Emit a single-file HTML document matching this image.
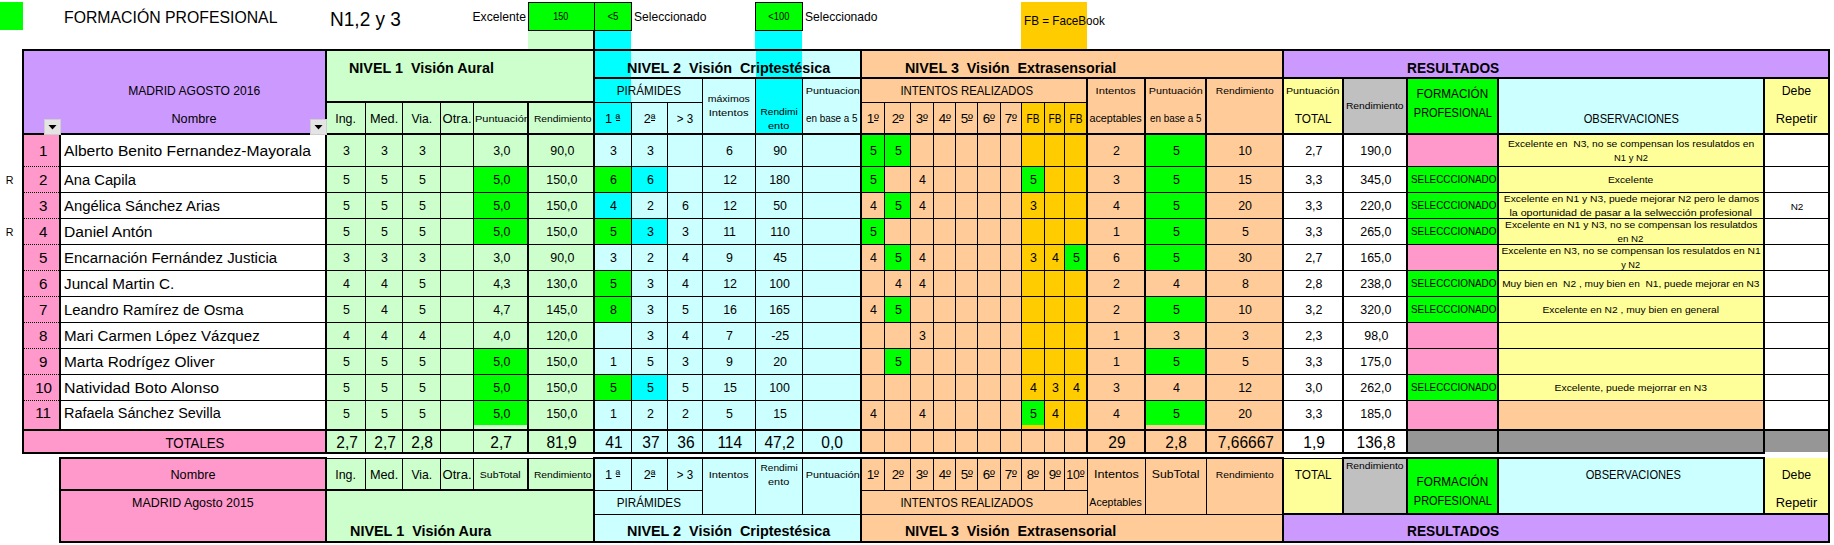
<!DOCTYPE html>
<html><head><meta charset="utf-8"><title>Formación Profesional</title>
<style>
html,body{margin:0;padding:0;background:#fff;}
body{width:1834px;height:545px;position:relative;overflow:hidden;font-family:"Liberation Sans",sans-serif;color:#000;}
#sheet{position:absolute;left:0;top:0;width:1834px;height:545px;overflow:hidden;background:#fff;}
.r{position:absolute;}
.t{position:absolute;line-height:1;white-space:pre;}
.o{position:relative;display:inline-block}.o i{position:absolute;left:0.02em;right:0.02em;bottom:0.33em;height:1px;background:#000}
.dot{background:repeating-linear-gradient(90deg,#000 0 1px,transparent 1px 2px);}
</style></head><body>
<div id="sheet">
<div class="r" style="left:0px;top:2px;width:23px;height:28px;background:#00FF00"></div>
<div class="t" style="left:64px;top:10px;width:336px;font-size:16.90px;text-align:left;"><span style="display:inline-block;transform:scaleX(0.936);transform-origin:left center">FORMACIÓN PROFESIONAL</span></div>
<div class="t" style="left:330px;top:9px;width:170px;font-size:20.60px;text-align:left;"><span style="display:inline-block;transform:scaleX(0.925);transform-origin:left center">N1,2 y 3</span></div>
<div class="t" style="left:440px;top:10px;width:85.5px;font-size:13.20px;text-align:right;"><span style="display:inline-block;transform:scaleX(0.923);transform-origin:right center">Excelente</span></div>
<div class="r" style="left:528px;top:2px;width:104px;height:29px;background:#000000"></div>
<div class="r" style="left:529px;top:3px;width:65px;height:27px;background:#00FF00"></div>
<div class="r" style="left:595px;top:3px;width:36px;height:27px;background:#00FF00"></div>
<div class="r" style="left:528px;top:31px;width:66px;height:18px;background:#CCFFCC"></div>
<div class="r" style="left:594px;top:31px;width:37px;height:18px;background:#00FFFF"></div>
<div class="r" style="left:593px;top:31px;width:2px;height:18px;background:#000000"></div>
<div class="t" style="left:161.0px;top:11px;width:800.0px;font-size:10.50px;text-align:center;"><span style="display:inline-block;transform:scaleX(0.856);transform-origin:center center">150</span></div>
<div class="t" style="left:213.0px;top:11px;width:800.0px;font-size:10.50px;text-align:center;"><span style="display:inline-block;transform:scaleX(0.919);transform-origin:center center">&lt;5</span></div>
<div class="t" style="left:633.6px;top:10px;width:126.39999999999998px;font-size:13.20px;text-align:left;"><span style="display:inline-block;transform:scaleX(0.915);transform-origin:left center">Seleccionado</span></div>
<div class="r" style="left:755px;top:2px;width:48px;height:29px;background:#000000"></div>
<div class="r" style="left:756px;top:3px;width:46px;height:27px;background:#00FF00"></div>
<div class="r" style="left:755px;top:31px;width:47px;height:18px;background:#00FFFF"></div>
<div class="t" style="left:378.5px;top:11px;width:800.0px;font-size:10.50px;text-align:center;"><span style="display:inline-block;transform:scaleX(0.888);transform-origin:center center">&lt;100</span></div>
<div class="t" style="left:804.6px;top:10px;width:125.39999999999998px;font-size:13.20px;text-align:left;"><span style="display:inline-block;transform:scaleX(0.915);transform-origin:left center">Seleccionado</span></div>
<div class="r" style="left:1021px;top:2px;width:66px;height:47px;background:#FFCC00"></div>
<div class="t" style="left:1024px;top:14px;width:176px;font-size:13.20px;text-align:left;"><span style="display:inline-block;transform:scaleX(0.887);transform-origin:left center">FB = FaceBook</span></div>
<div class="r" style="left:24px;top:51px;width:301px;height:82px;background:#CC99FF"></div>
<div class="r" style="left:327px;top:51px;width:266px;height:82px;background:#CCFFCC"></div>
<div class="r" style="left:595px;top:51px;width:265px;height:82px;background:#CCFFFF"></div>
<div class="r" style="left:595px;top:51px;width:36px;height:82px;background:#00FFFF"></div>
<div class="r" style="left:756px;top:51px;width:46px;height:82px;background:#00FFFF"></div>
<div class="r" style="left:862px;top:51px;width:420px;height:82px;background:#FFCC99"></div>
<div class="r" style="left:1022px;top:103px;width:64px;height:30px;background:#FFCC00"></div>
<div class="r" style="left:1284px;top:51px;width:544px;height:26px;background:#CC99FF"></div>
<div class="r" style="left:1284px;top:79px;width:58px;height:54px;background:#FFFF99"></div>
<div class="r" style="left:1344px;top:79px;width:62px;height:54px;background:#C0C0C0"></div>
<div class="r" style="left:1408px;top:79px;width:89px;height:54px;background:#00FF00"></div>
<div class="r" style="left:1499px;top:79px;width:264px;height:54px;background:#CCFFFF"></div>
<div class="r" style="left:1765px;top:79px;width:63px;height:54px;background:#FFFF99"></div>
<div class="r" style="left:24px;top:135px;width:35px;height:294px;background:#FF99CC"></div>
<div class="r" style="left:61px;top:135px;width:264px;height:294px;background:#FFFFFF"></div>
<div class="r" style="left:327px;top:135px;width:266px;height:317px;background:#CCFFCC"></div>
<div class="r" style="left:595px;top:135px;width:265px;height:317px;background:#CCFFFF"></div>
<div class="r" style="left:862px;top:135px;width:420px;height:317px;background:#FFCC99"></div>
<div class="r" style="left:1022px;top:135px;width:64px;height:294px;background:#FFCC00"></div>
<div class="r" style="left:1284px;top:135px;width:122px;height:317px;background:#FFFFFF"></div>
<div class="r" style="left:1408px;top:135px;width:89px;height:294px;background:#FF99CC"></div>
<div class="r" style="left:1499px;top:135px;width:264px;height:294px;background:#FFFF99"></div>
<div class="r" style="left:1765px;top:135px;width:63px;height:294px;background:#FFFFFF"></div>
<div class="r" style="left:24px;top:431px;width:301px;height:21px;background:#FF99CC"></div>
<div class="r" style="left:1408px;top:431px;width:420px;height:21px;background:#969696"></div>
<div class="r" style="left:862px;top:135px;width:22px;height:31px;background:#00FF00"></div>
<div class="r" style="left:885px;top:135px;width:25px;height:31px;background:#00FF00"></div>
<div class="r" style="left:1146px;top:135px;width:59px;height:31px;background:#00FF00"></div>
<div class="t" style="left:-356.5px;top:143px;width:800.0px;font-size:15.50px;text-align:center;"><span style="display:inline-block;transform:scaleX(0.980);transform-origin:center center">1</span></div>
<div class="t" style="left:64.3px;top:143px;width:265.7px;font-size:15.50px;text-align:left;"><span style="display:inline-block;transform:scaleX(1.009);transform-origin:left center">Alberto Benito Fernandez-Mayorala</span></div>
<div class="t" style="left:-53.0px;top:145px;width:800.0px;font-size:12.66px;text-align:center;"><span style="display:inline-block;transform:scaleX(0.980);transform-origin:center center">3</span></div>
<div class="t" style="left:-15.0px;top:145px;width:800.0px;font-size:12.66px;text-align:center;"><span style="display:inline-block;transform:scaleX(0.980);transform-origin:center center">3</span></div>
<div class="t" style="left:22.5px;top:145px;width:800.0px;font-size:12.66px;text-align:center;"><span style="display:inline-block;transform:scaleX(0.980);transform-origin:center center">3</span></div>
<div class="t" style="left:101.5px;top:145px;width:800.0px;font-size:12.66px;text-align:center;"><span style="display:inline-block;transform:scaleX(0.980);transform-origin:center center">3,0</span></div>
<div class="t" style="left:162.0px;top:145px;width:800.0px;font-size:12.66px;text-align:center;"><span style="display:inline-block;transform:scaleX(0.980);transform-origin:center center">90,0</span></div>
<div class="t" style="left:214.0px;top:145px;width:800.0px;font-size:12.66px;text-align:center;"><span style="display:inline-block;transform:scaleX(0.980);transform-origin:center center">3</span></div>
<div class="t" style="left:250.5px;top:145px;width:800.0px;font-size:12.66px;text-align:center;"><span style="display:inline-block;transform:scaleX(0.980);transform-origin:center center">3</span></div>
<div class="t" style="left:330.0px;top:145px;width:800.0px;font-size:12.66px;text-align:center;"><span style="display:inline-block;transform:scaleX(0.980);transform-origin:center center">6</span></div>
<div class="t" style="left:380.0px;top:145px;width:800.0px;font-size:12.66px;text-align:center;"><span style="display:inline-block;transform:scaleX(0.980);transform-origin:center center">90</span></div>
<div class="t" style="left:474.0px;top:145px;width:800.0px;font-size:12.66px;text-align:center;"><span style="display:inline-block;transform:scaleX(0.980);transform-origin:center center">5</span></div>
<div class="t" style="left:498.5px;top:145px;width:800.0px;font-size:12.66px;text-align:center;"><span style="display:inline-block;transform:scaleX(0.980);transform-origin:center center">5</span></div>
<div class="t" style="left:717.0px;top:145px;width:800.0px;font-size:12.66px;text-align:center;"><span style="display:inline-block;transform:scaleX(0.980);transform-origin:center center">2</span></div>
<div class="t" style="left:776.5px;top:145px;width:800.0px;font-size:12.66px;text-align:center;"><span style="display:inline-block;transform:scaleX(0.980);transform-origin:center center">5</span></div>
<div class="t" style="left:845.5px;top:145px;width:800.0px;font-size:12.66px;text-align:center;"><span style="display:inline-block;transform:scaleX(0.980);transform-origin:center center">10</span></div>
<div class="t" style="left:914.0px;top:145px;width:800.0px;font-size:12.66px;text-align:center;"><span style="display:inline-block;transform:scaleX(0.980);transform-origin:center center">2,7</span></div>
<div class="t" style="left:976.0px;top:145px;width:800.0px;font-size:12.66px;text-align:center;"><span style="display:inline-block;transform:scaleX(0.980);transform-origin:center center">190,0</span></div>
<div class="t" style="left:1231.0px;top:139px;width:800.0px;font-size:9.40px;text-align:center;"><span style="display:inline-block;transform:scaleX(1.099);transform-origin:center center">Excelente en  N3, no se compensan los resulatdos en</span></div>
<div class="t" style="left:1231.0px;top:153px;width:800.0px;font-size:9.40px;text-align:center;">N1 y N2</div>
<div class="r" style="left:474px;top:167px;width:53px;height:25px;background:#00FF00"></div>
<div class="r" style="left:595px;top:167px;width:36px;height:25px;background:#00FF00"></div>
<div class="r" style="left:632px;top:167px;width:35px;height:25px;background:#00FFFF"></div>
<div class="r" style="left:862px;top:167px;width:22px;height:25px;background:#00FF00"></div>
<div class="r" style="left:1022px;top:167px;width:22px;height:25px;background:#00FF00"></div>
<div class="r" style="left:1146px;top:167px;width:59px;height:25px;background:#00FF00"></div>
<div class="r" style="left:1408px;top:167px;width:89px;height:25px;background:#00FF00"></div>
<div class="t" style="left:-356.5px;top:172px;width:800.0px;font-size:15.50px;text-align:center;"><span style="display:inline-block;transform:scaleX(0.980);transform-origin:center center">2</span></div>
<div class="t" style="left:64.3px;top:172px;width:265.7px;font-size:15.50px;text-align:left;"><span style="display:inline-block;transform:scaleX(0.950);transform-origin:left center">Ana Capila</span></div>
<div class="t" style="left:-53.0px;top:174px;width:800.0px;font-size:12.66px;text-align:center;"><span style="display:inline-block;transform:scaleX(0.980);transform-origin:center center">5</span></div>
<div class="t" style="left:-15.0px;top:174px;width:800.0px;font-size:12.66px;text-align:center;"><span style="display:inline-block;transform:scaleX(0.980);transform-origin:center center">5</span></div>
<div class="t" style="left:22.5px;top:174px;width:800.0px;font-size:12.66px;text-align:center;"><span style="display:inline-block;transform:scaleX(0.980);transform-origin:center center">5</span></div>
<div class="t" style="left:101.5px;top:174px;width:800.0px;font-size:12.66px;text-align:center;"><span style="display:inline-block;transform:scaleX(0.980);transform-origin:center center">5,0</span></div>
<div class="t" style="left:162.0px;top:174px;width:800.0px;font-size:12.66px;text-align:center;"><span style="display:inline-block;transform:scaleX(0.980);transform-origin:center center">150,0</span></div>
<div class="t" style="left:214.0px;top:174px;width:800.0px;font-size:12.66px;text-align:center;"><span style="display:inline-block;transform:scaleX(0.980);transform-origin:center center">6</span></div>
<div class="t" style="left:250.5px;top:174px;width:800.0px;font-size:12.66px;text-align:center;"><span style="display:inline-block;transform:scaleX(0.980);transform-origin:center center">6</span></div>
<div class="t" style="left:330.0px;top:174px;width:800.0px;font-size:12.66px;text-align:center;"><span style="display:inline-block;transform:scaleX(0.980);transform-origin:center center">12</span></div>
<div class="t" style="left:380.0px;top:174px;width:800.0px;font-size:12.66px;text-align:center;"><span style="display:inline-block;transform:scaleX(0.980);transform-origin:center center">180</span></div>
<div class="t" style="left:474.0px;top:174px;width:800.0px;font-size:12.66px;text-align:center;"><span style="display:inline-block;transform:scaleX(0.980);transform-origin:center center">5</span></div>
<div class="t" style="left:523.0px;top:174px;width:800.0px;font-size:12.66px;text-align:center;"><span style="display:inline-block;transform:scaleX(0.980);transform-origin:center center">4</span></div>
<div class="t" style="left:634.0px;top:174px;width:800.0px;font-size:12.66px;text-align:center;"><span style="display:inline-block;transform:scaleX(0.980);transform-origin:center center">5</span></div>
<div class="t" style="left:717.0px;top:174px;width:800.0px;font-size:12.66px;text-align:center;"><span style="display:inline-block;transform:scaleX(0.980);transform-origin:center center">3</span></div>
<div class="t" style="left:776.5px;top:174px;width:800.0px;font-size:12.66px;text-align:center;"><span style="display:inline-block;transform:scaleX(0.980);transform-origin:center center">5</span></div>
<div class="t" style="left:845.5px;top:174px;width:800.0px;font-size:12.66px;text-align:center;"><span style="display:inline-block;transform:scaleX(0.980);transform-origin:center center">15</span></div>
<div class="t" style="left:914.0px;top:174px;width:800.0px;font-size:12.66px;text-align:center;"><span style="display:inline-block;transform:scaleX(0.980);transform-origin:center center">3,3</span></div>
<div class="t" style="left:976.0px;top:174px;width:800.0px;font-size:12.66px;text-align:center;"><span style="display:inline-block;transform:scaleX(0.980);transform-origin:center center">345,0</span></div>
<div class="t" style="left:1410.6px;top:175px;width:86.40000000000009px;font-size:10.40px;overflow:hidden;text-align:left;"><span style="display:inline-block;transform:scaleX(0.948);transform-origin:left center">SELECCCIONADO</span></div>
<div class="t" style="left:1231.0px;top:175px;width:800.0px;font-size:9.40px;text-align:center;"><span style="display:inline-block;transform:scaleX(1.102);transform-origin:center center">Excelente</span></div>
<div class="r" style="left:474px;top:193px;width:53px;height:25px;background:#00FF00"></div>
<div class="r" style="left:595px;top:193px;width:36px;height:25px;background:#00FFFF"></div>
<div class="r" style="left:885px;top:193px;width:25px;height:25px;background:#00FF00"></div>
<div class="r" style="left:1146px;top:193px;width:59px;height:25px;background:#00FF00"></div>
<div class="r" style="left:1408px;top:193px;width:89px;height:25px;background:#00FF00"></div>
<div class="t" style="left:-356.5px;top:198px;width:800.0px;font-size:15.50px;text-align:center;"><span style="display:inline-block;transform:scaleX(0.980);transform-origin:center center">3</span></div>
<div class="t" style="left:64.3px;top:198px;width:265.7px;font-size:15.50px;text-align:left;"><span style="display:inline-block;transform:scaleX(0.957);transform-origin:left center">Angélica Sánchez Arias</span></div>
<div class="t" style="left:-53.0px;top:200px;width:800.0px;font-size:12.66px;text-align:center;"><span style="display:inline-block;transform:scaleX(0.980);transform-origin:center center">5</span></div>
<div class="t" style="left:-15.0px;top:200px;width:800.0px;font-size:12.66px;text-align:center;"><span style="display:inline-block;transform:scaleX(0.980);transform-origin:center center">5</span></div>
<div class="t" style="left:22.5px;top:200px;width:800.0px;font-size:12.66px;text-align:center;"><span style="display:inline-block;transform:scaleX(0.980);transform-origin:center center">5</span></div>
<div class="t" style="left:101.5px;top:200px;width:800.0px;font-size:12.66px;text-align:center;"><span style="display:inline-block;transform:scaleX(0.980);transform-origin:center center">5,0</span></div>
<div class="t" style="left:162.0px;top:200px;width:800.0px;font-size:12.66px;text-align:center;"><span style="display:inline-block;transform:scaleX(0.980);transform-origin:center center">150,0</span></div>
<div class="t" style="left:214.0px;top:200px;width:800.0px;font-size:12.66px;text-align:center;"><span style="display:inline-block;transform:scaleX(0.980);transform-origin:center center">4</span></div>
<div class="t" style="left:250.5px;top:200px;width:800.0px;font-size:12.66px;text-align:center;"><span style="display:inline-block;transform:scaleX(0.980);transform-origin:center center">2</span></div>
<div class="t" style="left:286.0px;top:200px;width:800.0px;font-size:12.66px;text-align:center;"><span style="display:inline-block;transform:scaleX(0.980);transform-origin:center center">6</span></div>
<div class="t" style="left:330.0px;top:200px;width:800.0px;font-size:12.66px;text-align:center;"><span style="display:inline-block;transform:scaleX(0.980);transform-origin:center center">12</span></div>
<div class="t" style="left:380.0px;top:200px;width:800.0px;font-size:12.66px;text-align:center;"><span style="display:inline-block;transform:scaleX(0.980);transform-origin:center center">50</span></div>
<div class="t" style="left:474.0px;top:200px;width:800.0px;font-size:12.66px;text-align:center;"><span style="display:inline-block;transform:scaleX(0.980);transform-origin:center center">4</span></div>
<div class="t" style="left:498.5px;top:200px;width:800.0px;font-size:12.66px;text-align:center;"><span style="display:inline-block;transform:scaleX(0.980);transform-origin:center center">5</span></div>
<div class="t" style="left:523.0px;top:200px;width:800.0px;font-size:12.66px;text-align:center;"><span style="display:inline-block;transform:scaleX(0.980);transform-origin:center center">4</span></div>
<div class="t" style="left:634.0px;top:200px;width:800.0px;font-size:12.66px;text-align:center;"><span style="display:inline-block;transform:scaleX(0.980);transform-origin:center center">3</span></div>
<div class="t" style="left:717.0px;top:200px;width:800.0px;font-size:12.66px;text-align:center;"><span style="display:inline-block;transform:scaleX(0.980);transform-origin:center center">4</span></div>
<div class="t" style="left:776.5px;top:200px;width:800.0px;font-size:12.66px;text-align:center;"><span style="display:inline-block;transform:scaleX(0.980);transform-origin:center center">5</span></div>
<div class="t" style="left:845.5px;top:200px;width:800.0px;font-size:12.66px;text-align:center;"><span style="display:inline-block;transform:scaleX(0.980);transform-origin:center center">20</span></div>
<div class="t" style="left:914.0px;top:200px;width:800.0px;font-size:12.66px;text-align:center;"><span style="display:inline-block;transform:scaleX(0.980);transform-origin:center center">3,3</span></div>
<div class="t" style="left:976.0px;top:200px;width:800.0px;font-size:12.66px;text-align:center;"><span style="display:inline-block;transform:scaleX(0.980);transform-origin:center center">220,0</span></div>
<div class="t" style="left:1410.6px;top:201px;width:86.40000000000009px;font-size:10.40px;overflow:hidden;text-align:left;"><span style="display:inline-block;transform:scaleX(0.948);transform-origin:left center">SELECCCIONADO</span></div>
<div class="t" style="left:1231.0px;top:194px;width:800.0px;font-size:9.40px;text-align:center;"><span style="display:inline-block;transform:scaleX(1.096);transform-origin:center center">Excelente en N1 y N3, puede mejorar N2 pero le damos</span></div>
<div class="t" style="left:1231.0px;top:208px;width:800.0px;font-size:9.40px;text-align:center;"><span style="display:inline-block;transform:scaleX(1.137);transform-origin:center center">la oportunidad de pasar a la selwección profesional</span></div>
<div class="r" style="left:474px;top:219px;width:53px;height:25px;background:#00FF00"></div>
<div class="r" style="left:595px;top:219px;width:36px;height:25px;background:#00FF00"></div>
<div class="r" style="left:632px;top:219px;width:35px;height:25px;background:#00FFFF"></div>
<div class="r" style="left:862px;top:219px;width:22px;height:25px;background:#00FF00"></div>
<div class="r" style="left:1146px;top:219px;width:59px;height:25px;background:#00FF00"></div>
<div class="r" style="left:1408px;top:219px;width:89px;height:25px;background:#00FF00"></div>
<div class="t" style="left:-356.5px;top:224px;width:800.0px;font-size:15.50px;text-align:center;"><span style="display:inline-block;transform:scaleX(0.980);transform-origin:center center">4</span></div>
<div class="t" style="left:64.3px;top:224px;width:265.7px;font-size:15.50px;text-align:left;"><span style="display:inline-block;transform:scaleX(1.007);transform-origin:left center">Daniel Antón</span></div>
<div class="t" style="left:-53.0px;top:226px;width:800.0px;font-size:12.66px;text-align:center;"><span style="display:inline-block;transform:scaleX(0.980);transform-origin:center center">5</span></div>
<div class="t" style="left:-15.0px;top:226px;width:800.0px;font-size:12.66px;text-align:center;"><span style="display:inline-block;transform:scaleX(0.980);transform-origin:center center">5</span></div>
<div class="t" style="left:22.5px;top:226px;width:800.0px;font-size:12.66px;text-align:center;"><span style="display:inline-block;transform:scaleX(0.980);transform-origin:center center">5</span></div>
<div class="t" style="left:101.5px;top:226px;width:800.0px;font-size:12.66px;text-align:center;"><span style="display:inline-block;transform:scaleX(0.980);transform-origin:center center">5,0</span></div>
<div class="t" style="left:162.0px;top:226px;width:800.0px;font-size:12.66px;text-align:center;"><span style="display:inline-block;transform:scaleX(0.980);transform-origin:center center">150,0</span></div>
<div class="t" style="left:214.0px;top:226px;width:800.0px;font-size:12.66px;text-align:center;"><span style="display:inline-block;transform:scaleX(0.980);transform-origin:center center">5</span></div>
<div class="t" style="left:250.5px;top:226px;width:800.0px;font-size:12.66px;text-align:center;"><span style="display:inline-block;transform:scaleX(0.980);transform-origin:center center">3</span></div>
<div class="t" style="left:286.0px;top:226px;width:800.0px;font-size:12.66px;text-align:center;"><span style="display:inline-block;transform:scaleX(0.980);transform-origin:center center">3</span></div>
<div class="t" style="left:330.0px;top:226px;width:800.0px;font-size:12.66px;text-align:center;"><span style="display:inline-block;transform:scaleX(0.980);transform-origin:center center">11</span></div>
<div class="t" style="left:380.0px;top:226px;width:800.0px;font-size:12.66px;text-align:center;"><span style="display:inline-block;transform:scaleX(0.980);transform-origin:center center">110</span></div>
<div class="t" style="left:474.0px;top:226px;width:800.0px;font-size:12.66px;text-align:center;"><span style="display:inline-block;transform:scaleX(0.980);transform-origin:center center">5</span></div>
<div class="t" style="left:717.0px;top:226px;width:800.0px;font-size:12.66px;text-align:center;"><span style="display:inline-block;transform:scaleX(0.980);transform-origin:center center">1</span></div>
<div class="t" style="left:776.5px;top:226px;width:800.0px;font-size:12.66px;text-align:center;"><span style="display:inline-block;transform:scaleX(0.980);transform-origin:center center">5</span></div>
<div class="t" style="left:845.5px;top:226px;width:800.0px;font-size:12.66px;text-align:center;"><span style="display:inline-block;transform:scaleX(0.980);transform-origin:center center">5</span></div>
<div class="t" style="left:914.0px;top:226px;width:800.0px;font-size:12.66px;text-align:center;"><span style="display:inline-block;transform:scaleX(0.980);transform-origin:center center">3,3</span></div>
<div class="t" style="left:976.0px;top:226px;width:800.0px;font-size:12.66px;text-align:center;"><span style="display:inline-block;transform:scaleX(0.980);transform-origin:center center">265,0</span></div>
<div class="t" style="left:1410.6px;top:227px;width:86.40000000000009px;font-size:10.40px;overflow:hidden;text-align:left;"><span style="display:inline-block;transform:scaleX(0.948);transform-origin:left center">SELECCCIONADO</span></div>
<div class="t" style="left:1231.0px;top:220px;width:800.0px;font-size:9.40px;text-align:center;"><span style="display:inline-block;transform:scaleX(1.095);transform-origin:center center">Excelente en N1 y N3, no se compensan los resulatdos</span></div>
<div class="t" style="left:1231.0px;top:234px;width:800.0px;font-size:9.40px;text-align:center;"><span style="display:inline-block;transform:scaleX(1.037);transform-origin:center center">en N2</span></div>
<div class="r" style="left:885px;top:245px;width:25px;height:25px;background:#00FF00"></div>
<div class="r" style="left:1065px;top:245px;width:21px;height:25px;background:#00FF00"></div>
<div class="r" style="left:1146px;top:245px;width:59px;height:25px;background:#00FF00"></div>
<div class="t" style="left:-356.5px;top:250px;width:800.0px;font-size:15.50px;text-align:center;"><span style="display:inline-block;transform:scaleX(0.980);transform-origin:center center">5</span></div>
<div class="t" style="left:64.3px;top:250px;width:265.7px;font-size:15.50px;text-align:left;"><span style="display:inline-block;transform:scaleX(0.966);transform-origin:left center">Encarnación Fernández Justicia</span></div>
<div class="t" style="left:-53.0px;top:252px;width:800.0px;font-size:12.66px;text-align:center;"><span style="display:inline-block;transform:scaleX(0.980);transform-origin:center center">3</span></div>
<div class="t" style="left:-15.0px;top:252px;width:800.0px;font-size:12.66px;text-align:center;"><span style="display:inline-block;transform:scaleX(0.980);transform-origin:center center">3</span></div>
<div class="t" style="left:22.5px;top:252px;width:800.0px;font-size:12.66px;text-align:center;"><span style="display:inline-block;transform:scaleX(0.980);transform-origin:center center">3</span></div>
<div class="t" style="left:101.5px;top:252px;width:800.0px;font-size:12.66px;text-align:center;"><span style="display:inline-block;transform:scaleX(0.980);transform-origin:center center">3,0</span></div>
<div class="t" style="left:162.0px;top:252px;width:800.0px;font-size:12.66px;text-align:center;"><span style="display:inline-block;transform:scaleX(0.980);transform-origin:center center">90,0</span></div>
<div class="t" style="left:214.0px;top:252px;width:800.0px;font-size:12.66px;text-align:center;"><span style="display:inline-block;transform:scaleX(0.980);transform-origin:center center">3</span></div>
<div class="t" style="left:250.5px;top:252px;width:800.0px;font-size:12.66px;text-align:center;"><span style="display:inline-block;transform:scaleX(0.980);transform-origin:center center">2</span></div>
<div class="t" style="left:286.0px;top:252px;width:800.0px;font-size:12.66px;text-align:center;"><span style="display:inline-block;transform:scaleX(0.980);transform-origin:center center">4</span></div>
<div class="t" style="left:330.0px;top:252px;width:800.0px;font-size:12.66px;text-align:center;"><span style="display:inline-block;transform:scaleX(0.980);transform-origin:center center">9</span></div>
<div class="t" style="left:380.0px;top:252px;width:800.0px;font-size:12.66px;text-align:center;"><span style="display:inline-block;transform:scaleX(0.980);transform-origin:center center">45</span></div>
<div class="t" style="left:474.0px;top:252px;width:800.0px;font-size:12.66px;text-align:center;"><span style="display:inline-block;transform:scaleX(0.980);transform-origin:center center">4</span></div>
<div class="t" style="left:498.5px;top:252px;width:800.0px;font-size:12.66px;text-align:center;"><span style="display:inline-block;transform:scaleX(0.980);transform-origin:center center">5</span></div>
<div class="t" style="left:523.0px;top:252px;width:800.0px;font-size:12.66px;text-align:center;"><span style="display:inline-block;transform:scaleX(0.980);transform-origin:center center">4</span></div>
<div class="t" style="left:634.0px;top:252px;width:800.0px;font-size:12.66px;text-align:center;"><span style="display:inline-block;transform:scaleX(0.980);transform-origin:center center">3</span></div>
<div class="t" style="left:655.5px;top:252px;width:800.0px;font-size:12.66px;text-align:center;"><span style="display:inline-block;transform:scaleX(0.980);transform-origin:center center">4</span></div>
<div class="t" style="left:676.5px;top:252px;width:800.0px;font-size:12.66px;text-align:center;"><span style="display:inline-block;transform:scaleX(0.980);transform-origin:center center">5</span></div>
<div class="t" style="left:717.0px;top:252px;width:800.0px;font-size:12.66px;text-align:center;"><span style="display:inline-block;transform:scaleX(0.980);transform-origin:center center">6</span></div>
<div class="t" style="left:776.5px;top:252px;width:800.0px;font-size:12.66px;text-align:center;"><span style="display:inline-block;transform:scaleX(0.980);transform-origin:center center">5</span></div>
<div class="t" style="left:845.5px;top:252px;width:800.0px;font-size:12.66px;text-align:center;"><span style="display:inline-block;transform:scaleX(0.980);transform-origin:center center">30</span></div>
<div class="t" style="left:914.0px;top:252px;width:800.0px;font-size:12.66px;text-align:center;"><span style="display:inline-block;transform:scaleX(0.980);transform-origin:center center">2,7</span></div>
<div class="t" style="left:976.0px;top:252px;width:800.0px;font-size:12.66px;text-align:center;"><span style="display:inline-block;transform:scaleX(0.980);transform-origin:center center">165,0</span></div>
<div class="t" style="left:1231.0px;top:246px;width:800.0px;font-size:9.40px;text-align:center;"><span style="display:inline-block;transform:scaleX(1.098);transform-origin:center center">Excelente en N3, no se compensan los resulatdos en N1</span></div>
<div class="t" style="left:1231.0px;top:260px;width:800.0px;font-size:9.40px;text-align:center;"><span style="display:inline-block;transform:scaleX(0.983);transform-origin:center center">y N2</span></div>
<div class="r" style="left:595px;top:271px;width:36px;height:25px;background:#00FF00"></div>
<div class="r" style="left:1408px;top:271px;width:89px;height:25px;background:#00FF00"></div>
<div class="t" style="left:-356.5px;top:276px;width:800.0px;font-size:15.50px;text-align:center;"><span style="display:inline-block;transform:scaleX(0.980);transform-origin:center center">6</span></div>
<div class="t" style="left:64.3px;top:276px;width:265.7px;font-size:15.50px;text-align:left;"><span style="display:inline-block;transform:scaleX(0.984);transform-origin:left center">Juncal Martin C.</span></div>
<div class="t" style="left:-53.0px;top:278px;width:800.0px;font-size:12.66px;text-align:center;"><span style="display:inline-block;transform:scaleX(0.980);transform-origin:center center">4</span></div>
<div class="t" style="left:-15.0px;top:278px;width:800.0px;font-size:12.66px;text-align:center;"><span style="display:inline-block;transform:scaleX(0.980);transform-origin:center center">4</span></div>
<div class="t" style="left:22.5px;top:278px;width:800.0px;font-size:12.66px;text-align:center;"><span style="display:inline-block;transform:scaleX(0.980);transform-origin:center center">5</span></div>
<div class="t" style="left:101.5px;top:278px;width:800.0px;font-size:12.66px;text-align:center;"><span style="display:inline-block;transform:scaleX(0.980);transform-origin:center center">4,3</span></div>
<div class="t" style="left:162.0px;top:278px;width:800.0px;font-size:12.66px;text-align:center;"><span style="display:inline-block;transform:scaleX(0.980);transform-origin:center center">130,0</span></div>
<div class="t" style="left:214.0px;top:278px;width:800.0px;font-size:12.66px;text-align:center;"><span style="display:inline-block;transform:scaleX(0.980);transform-origin:center center">5</span></div>
<div class="t" style="left:250.5px;top:278px;width:800.0px;font-size:12.66px;text-align:center;"><span style="display:inline-block;transform:scaleX(0.980);transform-origin:center center">3</span></div>
<div class="t" style="left:286.0px;top:278px;width:800.0px;font-size:12.66px;text-align:center;"><span style="display:inline-block;transform:scaleX(0.980);transform-origin:center center">4</span></div>
<div class="t" style="left:330.0px;top:278px;width:800.0px;font-size:12.66px;text-align:center;"><span style="display:inline-block;transform:scaleX(0.980);transform-origin:center center">12</span></div>
<div class="t" style="left:380.0px;top:278px;width:800.0px;font-size:12.66px;text-align:center;"><span style="display:inline-block;transform:scaleX(0.980);transform-origin:center center">100</span></div>
<div class="t" style="left:498.5px;top:278px;width:800.0px;font-size:12.66px;text-align:center;"><span style="display:inline-block;transform:scaleX(0.980);transform-origin:center center">4</span></div>
<div class="t" style="left:523.0px;top:278px;width:800.0px;font-size:12.66px;text-align:center;"><span style="display:inline-block;transform:scaleX(0.980);transform-origin:center center">4</span></div>
<div class="t" style="left:717.0px;top:278px;width:800.0px;font-size:12.66px;text-align:center;"><span style="display:inline-block;transform:scaleX(0.980);transform-origin:center center">2</span></div>
<div class="t" style="left:776.5px;top:278px;width:800.0px;font-size:12.66px;text-align:center;"><span style="display:inline-block;transform:scaleX(0.980);transform-origin:center center">4</span></div>
<div class="t" style="left:845.5px;top:278px;width:800.0px;font-size:12.66px;text-align:center;"><span style="display:inline-block;transform:scaleX(0.980);transform-origin:center center">8</span></div>
<div class="t" style="left:914.0px;top:278px;width:800.0px;font-size:12.66px;text-align:center;"><span style="display:inline-block;transform:scaleX(0.980);transform-origin:center center">2,8</span></div>
<div class="t" style="left:976.0px;top:278px;width:800.0px;font-size:12.66px;text-align:center;"><span style="display:inline-block;transform:scaleX(0.980);transform-origin:center center">238,0</span></div>
<div class="t" style="left:1410.6px;top:279px;width:86.40000000000009px;font-size:10.40px;overflow:hidden;text-align:left;"><span style="display:inline-block;transform:scaleX(0.948);transform-origin:left center">SELECCCIONADO</span></div>
<div class="t" style="left:1231.0px;top:279px;width:800.0px;font-size:9.40px;text-align:center;"><span style="display:inline-block;transform:scaleX(1.083);transform-origin:center center">Muy bien en  N2 , muy bien en  N1, puede mejorar en N3</span></div>
<div class="r" style="left:595px;top:297px;width:36px;height:25px;background:#00FF00"></div>
<div class="r" style="left:885px;top:297px;width:25px;height:25px;background:#00FF00"></div>
<div class="r" style="left:1146px;top:297px;width:59px;height:25px;background:#00FF00"></div>
<div class="r" style="left:1408px;top:297px;width:89px;height:25px;background:#00FF00"></div>
<div class="t" style="left:-356.5px;top:302px;width:800.0px;font-size:15.50px;text-align:center;"><span style="display:inline-block;transform:scaleX(0.980);transform-origin:center center">7</span></div>
<div class="t" style="left:64.3px;top:302px;width:265.7px;font-size:15.50px;text-align:left;"><span style="display:inline-block;transform:scaleX(0.960);transform-origin:left center">Leandro Ramírez de Osma</span></div>
<div class="t" style="left:-53.0px;top:304px;width:800.0px;font-size:12.66px;text-align:center;"><span style="display:inline-block;transform:scaleX(0.980);transform-origin:center center">5</span></div>
<div class="t" style="left:-15.0px;top:304px;width:800.0px;font-size:12.66px;text-align:center;"><span style="display:inline-block;transform:scaleX(0.980);transform-origin:center center">4</span></div>
<div class="t" style="left:22.5px;top:304px;width:800.0px;font-size:12.66px;text-align:center;"><span style="display:inline-block;transform:scaleX(0.980);transform-origin:center center">5</span></div>
<div class="t" style="left:101.5px;top:304px;width:800.0px;font-size:12.66px;text-align:center;"><span style="display:inline-block;transform:scaleX(0.980);transform-origin:center center">4,7</span></div>
<div class="t" style="left:162.0px;top:304px;width:800.0px;font-size:12.66px;text-align:center;"><span style="display:inline-block;transform:scaleX(0.980);transform-origin:center center">145,0</span></div>
<div class="t" style="left:214.0px;top:304px;width:800.0px;font-size:12.66px;text-align:center;"><span style="display:inline-block;transform:scaleX(0.980);transform-origin:center center">8</span></div>
<div class="t" style="left:250.5px;top:304px;width:800.0px;font-size:12.66px;text-align:center;"><span style="display:inline-block;transform:scaleX(0.980);transform-origin:center center">3</span></div>
<div class="t" style="left:286.0px;top:304px;width:800.0px;font-size:12.66px;text-align:center;"><span style="display:inline-block;transform:scaleX(0.980);transform-origin:center center">5</span></div>
<div class="t" style="left:330.0px;top:304px;width:800.0px;font-size:12.66px;text-align:center;"><span style="display:inline-block;transform:scaleX(0.980);transform-origin:center center">16</span></div>
<div class="t" style="left:380.0px;top:304px;width:800.0px;font-size:12.66px;text-align:center;"><span style="display:inline-block;transform:scaleX(0.980);transform-origin:center center">165</span></div>
<div class="t" style="left:474.0px;top:304px;width:800.0px;font-size:12.66px;text-align:center;"><span style="display:inline-block;transform:scaleX(0.980);transform-origin:center center">4</span></div>
<div class="t" style="left:498.5px;top:304px;width:800.0px;font-size:12.66px;text-align:center;"><span style="display:inline-block;transform:scaleX(0.980);transform-origin:center center">5</span></div>
<div class="t" style="left:717.0px;top:304px;width:800.0px;font-size:12.66px;text-align:center;"><span style="display:inline-block;transform:scaleX(0.980);transform-origin:center center">2</span></div>
<div class="t" style="left:776.5px;top:304px;width:800.0px;font-size:12.66px;text-align:center;"><span style="display:inline-block;transform:scaleX(0.980);transform-origin:center center">5</span></div>
<div class="t" style="left:845.5px;top:304px;width:800.0px;font-size:12.66px;text-align:center;"><span style="display:inline-block;transform:scaleX(0.980);transform-origin:center center">10</span></div>
<div class="t" style="left:914.0px;top:304px;width:800.0px;font-size:12.66px;text-align:center;"><span style="display:inline-block;transform:scaleX(0.980);transform-origin:center center">3,2</span></div>
<div class="t" style="left:976.0px;top:304px;width:800.0px;font-size:12.66px;text-align:center;"><span style="display:inline-block;transform:scaleX(0.980);transform-origin:center center">320,0</span></div>
<div class="t" style="left:1410.6px;top:305px;width:86.40000000000009px;font-size:10.40px;overflow:hidden;text-align:left;"><span style="display:inline-block;transform:scaleX(0.948);transform-origin:left center">SELECCCIONADO</span></div>
<div class="t" style="left:1231.0px;top:305px;width:800.0px;font-size:9.40px;text-align:center;"><span style="display:inline-block;transform:scaleX(1.093);transform-origin:center center">Excelente en N2 , muy bien en general</span></div>
<div class="t" style="left:-356.5px;top:328px;width:800.0px;font-size:15.50px;text-align:center;"><span style="display:inline-block;transform:scaleX(0.980);transform-origin:center center">8</span></div>
<div class="t" style="left:64.3px;top:328px;width:265.7px;font-size:15.50px;text-align:left;"><span style="display:inline-block;transform:scaleX(0.975);transform-origin:left center">Mari Carmen López Vázquez</span></div>
<div class="t" style="left:-53.0px;top:330px;width:800.0px;font-size:12.66px;text-align:center;"><span style="display:inline-block;transform:scaleX(0.980);transform-origin:center center">4</span></div>
<div class="t" style="left:-15.0px;top:330px;width:800.0px;font-size:12.66px;text-align:center;"><span style="display:inline-block;transform:scaleX(0.980);transform-origin:center center">4</span></div>
<div class="t" style="left:22.5px;top:330px;width:800.0px;font-size:12.66px;text-align:center;"><span style="display:inline-block;transform:scaleX(0.980);transform-origin:center center">4</span></div>
<div class="t" style="left:101.5px;top:330px;width:800.0px;font-size:12.66px;text-align:center;"><span style="display:inline-block;transform:scaleX(0.980);transform-origin:center center">4,0</span></div>
<div class="t" style="left:162.0px;top:330px;width:800.0px;font-size:12.66px;text-align:center;"><span style="display:inline-block;transform:scaleX(0.980);transform-origin:center center">120,0</span></div>
<div class="t" style="left:250.5px;top:330px;width:800.0px;font-size:12.66px;text-align:center;"><span style="display:inline-block;transform:scaleX(0.980);transform-origin:center center">3</span></div>
<div class="t" style="left:286.0px;top:330px;width:800.0px;font-size:12.66px;text-align:center;"><span style="display:inline-block;transform:scaleX(0.980);transform-origin:center center">4</span></div>
<div class="t" style="left:330.0px;top:330px;width:800.0px;font-size:12.66px;text-align:center;"><span style="display:inline-block;transform:scaleX(0.980);transform-origin:center center">7</span></div>
<div class="t" style="left:380.0px;top:330px;width:800.0px;font-size:12.66px;text-align:center;"><span style="display:inline-block;transform:scaleX(0.980);transform-origin:center center">-25</span></div>
<div class="t" style="left:523.0px;top:330px;width:800.0px;font-size:12.66px;text-align:center;"><span style="display:inline-block;transform:scaleX(0.980);transform-origin:center center">3</span></div>
<div class="t" style="left:717.0px;top:330px;width:800.0px;font-size:12.66px;text-align:center;"><span style="display:inline-block;transform:scaleX(0.980);transform-origin:center center">1</span></div>
<div class="t" style="left:776.5px;top:330px;width:800.0px;font-size:12.66px;text-align:center;"><span style="display:inline-block;transform:scaleX(0.980);transform-origin:center center">3</span></div>
<div class="t" style="left:845.5px;top:330px;width:800.0px;font-size:12.66px;text-align:center;"><span style="display:inline-block;transform:scaleX(0.980);transform-origin:center center">3</span></div>
<div class="t" style="left:914.0px;top:330px;width:800.0px;font-size:12.66px;text-align:center;"><span style="display:inline-block;transform:scaleX(0.980);transform-origin:center center">2,3</span></div>
<div class="t" style="left:976.0px;top:330px;width:800.0px;font-size:12.66px;text-align:center;"><span style="display:inline-block;transform:scaleX(0.980);transform-origin:center center">98,0</span></div>
<div class="r" style="left:474px;top:349px;width:53px;height:25px;background:#00FF00"></div>
<div class="r" style="left:885px;top:349px;width:25px;height:25px;background:#00FF00"></div>
<div class="r" style="left:1146px;top:349px;width:59px;height:25px;background:#00FF00"></div>
<div class="t" style="left:-356.5px;top:354px;width:800.0px;font-size:15.50px;text-align:center;"><span style="display:inline-block;transform:scaleX(0.980);transform-origin:center center">9</span></div>
<div class="t" style="left:64.3px;top:354px;width:265.7px;font-size:15.50px;text-align:left;"><span style="display:inline-block;transform:scaleX(0.994);transform-origin:left center">Marta Rodrígez Oliver</span></div>
<div class="t" style="left:-53.0px;top:356px;width:800.0px;font-size:12.66px;text-align:center;"><span style="display:inline-block;transform:scaleX(0.980);transform-origin:center center">5</span></div>
<div class="t" style="left:-15.0px;top:356px;width:800.0px;font-size:12.66px;text-align:center;"><span style="display:inline-block;transform:scaleX(0.980);transform-origin:center center">5</span></div>
<div class="t" style="left:22.5px;top:356px;width:800.0px;font-size:12.66px;text-align:center;"><span style="display:inline-block;transform:scaleX(0.980);transform-origin:center center">5</span></div>
<div class="t" style="left:101.5px;top:356px;width:800.0px;font-size:12.66px;text-align:center;"><span style="display:inline-block;transform:scaleX(0.980);transform-origin:center center">5,0</span></div>
<div class="t" style="left:162.0px;top:356px;width:800.0px;font-size:12.66px;text-align:center;"><span style="display:inline-block;transform:scaleX(0.980);transform-origin:center center">150,0</span></div>
<div class="t" style="left:214.0px;top:356px;width:800.0px;font-size:12.66px;text-align:center;"><span style="display:inline-block;transform:scaleX(0.980);transform-origin:center center">1</span></div>
<div class="t" style="left:250.5px;top:356px;width:800.0px;font-size:12.66px;text-align:center;"><span style="display:inline-block;transform:scaleX(0.980);transform-origin:center center">5</span></div>
<div class="t" style="left:286.0px;top:356px;width:800.0px;font-size:12.66px;text-align:center;"><span style="display:inline-block;transform:scaleX(0.980);transform-origin:center center">3</span></div>
<div class="t" style="left:330.0px;top:356px;width:800.0px;font-size:12.66px;text-align:center;"><span style="display:inline-block;transform:scaleX(0.980);transform-origin:center center">9</span></div>
<div class="t" style="left:380.0px;top:356px;width:800.0px;font-size:12.66px;text-align:center;"><span style="display:inline-block;transform:scaleX(0.980);transform-origin:center center">20</span></div>
<div class="t" style="left:498.5px;top:356px;width:800.0px;font-size:12.66px;text-align:center;"><span style="display:inline-block;transform:scaleX(0.980);transform-origin:center center">5</span></div>
<div class="t" style="left:717.0px;top:356px;width:800.0px;font-size:12.66px;text-align:center;"><span style="display:inline-block;transform:scaleX(0.980);transform-origin:center center">1</span></div>
<div class="t" style="left:776.5px;top:356px;width:800.0px;font-size:12.66px;text-align:center;"><span style="display:inline-block;transform:scaleX(0.980);transform-origin:center center">5</span></div>
<div class="t" style="left:845.5px;top:356px;width:800.0px;font-size:12.66px;text-align:center;"><span style="display:inline-block;transform:scaleX(0.980);transform-origin:center center">5</span></div>
<div class="t" style="left:914.0px;top:356px;width:800.0px;font-size:12.66px;text-align:center;"><span style="display:inline-block;transform:scaleX(0.980);transform-origin:center center">3,3</span></div>
<div class="t" style="left:976.0px;top:356px;width:800.0px;font-size:12.66px;text-align:center;"><span style="display:inline-block;transform:scaleX(0.980);transform-origin:center center">175,0</span></div>
<div class="r" style="left:474px;top:375px;width:53px;height:25px;background:#00FF00"></div>
<div class="r" style="left:595px;top:375px;width:36px;height:25px;background:#00FF00"></div>
<div class="r" style="left:632px;top:375px;width:35px;height:25px;background:#00FFFF"></div>
<div class="r" style="left:1408px;top:375px;width:89px;height:25px;background:#00FF00"></div>
<div class="t" style="left:-356.5px;top:380px;width:800.0px;font-size:15.50px;text-align:center;"><span style="display:inline-block;transform:scaleX(0.980);transform-origin:center center">10</span></div>
<div class="t" style="left:64.3px;top:380px;width:265.7px;font-size:15.50px;text-align:left;"><span style="display:inline-block;transform:scaleX(1.023);transform-origin:left center">Natividad Boto Alonso</span></div>
<div class="t" style="left:-53.0px;top:382px;width:800.0px;font-size:12.66px;text-align:center;"><span style="display:inline-block;transform:scaleX(0.980);transform-origin:center center">5</span></div>
<div class="t" style="left:-15.0px;top:382px;width:800.0px;font-size:12.66px;text-align:center;"><span style="display:inline-block;transform:scaleX(0.980);transform-origin:center center">5</span></div>
<div class="t" style="left:22.5px;top:382px;width:800.0px;font-size:12.66px;text-align:center;"><span style="display:inline-block;transform:scaleX(0.980);transform-origin:center center">5</span></div>
<div class="t" style="left:101.5px;top:382px;width:800.0px;font-size:12.66px;text-align:center;"><span style="display:inline-block;transform:scaleX(0.980);transform-origin:center center">5,0</span></div>
<div class="t" style="left:162.0px;top:382px;width:800.0px;font-size:12.66px;text-align:center;"><span style="display:inline-block;transform:scaleX(0.980);transform-origin:center center">150,0</span></div>
<div class="t" style="left:214.0px;top:382px;width:800.0px;font-size:12.66px;text-align:center;"><span style="display:inline-block;transform:scaleX(0.980);transform-origin:center center">5</span></div>
<div class="t" style="left:250.5px;top:382px;width:800.0px;font-size:12.66px;text-align:center;"><span style="display:inline-block;transform:scaleX(0.980);transform-origin:center center">5</span></div>
<div class="t" style="left:286.0px;top:382px;width:800.0px;font-size:12.66px;text-align:center;"><span style="display:inline-block;transform:scaleX(0.980);transform-origin:center center">5</span></div>
<div class="t" style="left:330.0px;top:382px;width:800.0px;font-size:12.66px;text-align:center;"><span style="display:inline-block;transform:scaleX(0.980);transform-origin:center center">15</span></div>
<div class="t" style="left:380.0px;top:382px;width:800.0px;font-size:12.66px;text-align:center;"><span style="display:inline-block;transform:scaleX(0.980);transform-origin:center center">100</span></div>
<div class="t" style="left:634.0px;top:382px;width:800.0px;font-size:12.66px;text-align:center;"><span style="display:inline-block;transform:scaleX(0.980);transform-origin:center center">4</span></div>
<div class="t" style="left:655.5px;top:382px;width:800.0px;font-size:12.66px;text-align:center;"><span style="display:inline-block;transform:scaleX(0.980);transform-origin:center center">3</span></div>
<div class="t" style="left:676.5px;top:382px;width:800.0px;font-size:12.66px;text-align:center;"><span style="display:inline-block;transform:scaleX(0.980);transform-origin:center center">4</span></div>
<div class="t" style="left:717.0px;top:382px;width:800.0px;font-size:12.66px;text-align:center;"><span style="display:inline-block;transform:scaleX(0.980);transform-origin:center center">3</span></div>
<div class="t" style="left:776.5px;top:382px;width:800.0px;font-size:12.66px;text-align:center;"><span style="display:inline-block;transform:scaleX(0.980);transform-origin:center center">4</span></div>
<div class="t" style="left:845.5px;top:382px;width:800.0px;font-size:12.66px;text-align:center;"><span style="display:inline-block;transform:scaleX(0.980);transform-origin:center center">12</span></div>
<div class="t" style="left:914.0px;top:382px;width:800.0px;font-size:12.66px;text-align:center;"><span style="display:inline-block;transform:scaleX(0.980);transform-origin:center center">3,0</span></div>
<div class="t" style="left:976.0px;top:382px;width:800.0px;font-size:12.66px;text-align:center;"><span style="display:inline-block;transform:scaleX(0.980);transform-origin:center center">262,0</span></div>
<div class="t" style="left:1410.6px;top:383px;width:86.40000000000009px;font-size:10.40px;overflow:hidden;text-align:left;"><span style="display:inline-block;transform:scaleX(0.948);transform-origin:left center">SELECCCIONADO</span></div>
<div class="t" style="left:1231.0px;top:383px;width:800.0px;font-size:9.40px;text-align:center;"><span style="display:inline-block;transform:scaleX(1.109);transform-origin:center center">Excelente, puede mejorrar en N3</span></div>
<div class="r" style="left:474px;top:401px;width:53px;height:24px;background:#00FF00"></div>
<div class="r" style="left:1022px;top:401px;width:22px;height:24px;background:#00FF00"></div>
<div class="r" style="left:1146px;top:401px;width:59px;height:24px;background:#00FF00"></div>
<div class="r" style="left:1499px;top:401px;width:264px;height:28px;background:#FFCC99"></div>
<div class="t" style="left:-356.5px;top:405px;width:800.0px;font-size:15.50px;text-align:center;"><span style="display:inline-block;transform:scaleX(0.980);transform-origin:center center">11</span></div>
<div class="t" style="left:64.3px;top:405px;width:265.7px;font-size:15.50px;text-align:left;"><span style="display:inline-block;transform:scaleX(0.933);transform-origin:left center">Rafaela Sánchez Sevilla</span></div>
<div class="t" style="left:-53.0px;top:408px;width:800.0px;font-size:12.66px;text-align:center;"><span style="display:inline-block;transform:scaleX(0.980);transform-origin:center center">5</span></div>
<div class="t" style="left:-15.0px;top:408px;width:800.0px;font-size:12.66px;text-align:center;"><span style="display:inline-block;transform:scaleX(0.980);transform-origin:center center">5</span></div>
<div class="t" style="left:22.5px;top:408px;width:800.0px;font-size:12.66px;text-align:center;"><span style="display:inline-block;transform:scaleX(0.980);transform-origin:center center">5</span></div>
<div class="t" style="left:101.5px;top:408px;width:800.0px;font-size:12.66px;text-align:center;"><span style="display:inline-block;transform:scaleX(0.980);transform-origin:center center">5,0</span></div>
<div class="t" style="left:162.0px;top:408px;width:800.0px;font-size:12.66px;text-align:center;"><span style="display:inline-block;transform:scaleX(0.980);transform-origin:center center">150,0</span></div>
<div class="t" style="left:214.0px;top:408px;width:800.0px;font-size:12.66px;text-align:center;"><span style="display:inline-block;transform:scaleX(0.980);transform-origin:center center">1</span></div>
<div class="t" style="left:250.5px;top:408px;width:800.0px;font-size:12.66px;text-align:center;"><span style="display:inline-block;transform:scaleX(0.980);transform-origin:center center">2</span></div>
<div class="t" style="left:286.0px;top:408px;width:800.0px;font-size:12.66px;text-align:center;"><span style="display:inline-block;transform:scaleX(0.980);transform-origin:center center">2</span></div>
<div class="t" style="left:330.0px;top:408px;width:800.0px;font-size:12.66px;text-align:center;"><span style="display:inline-block;transform:scaleX(0.980);transform-origin:center center">5</span></div>
<div class="t" style="left:380.0px;top:408px;width:800.0px;font-size:12.66px;text-align:center;"><span style="display:inline-block;transform:scaleX(0.980);transform-origin:center center">15</span></div>
<div class="t" style="left:474.0px;top:408px;width:800.0px;font-size:12.66px;text-align:center;"><span style="display:inline-block;transform:scaleX(0.980);transform-origin:center center">4</span></div>
<div class="t" style="left:523.0px;top:408px;width:800.0px;font-size:12.66px;text-align:center;"><span style="display:inline-block;transform:scaleX(0.980);transform-origin:center center">4</span></div>
<div class="t" style="left:634.0px;top:408px;width:800.0px;font-size:12.66px;text-align:center;"><span style="display:inline-block;transform:scaleX(0.980);transform-origin:center center">5</span></div>
<div class="t" style="left:655.5px;top:408px;width:800.0px;font-size:12.66px;text-align:center;"><span style="display:inline-block;transform:scaleX(0.980);transform-origin:center center">4</span></div>
<div class="t" style="left:717.0px;top:408px;width:800.0px;font-size:12.66px;text-align:center;"><span style="display:inline-block;transform:scaleX(0.980);transform-origin:center center">4</span></div>
<div class="t" style="left:776.5px;top:408px;width:800.0px;font-size:12.66px;text-align:center;"><span style="display:inline-block;transform:scaleX(0.980);transform-origin:center center">5</span></div>
<div class="t" style="left:845.5px;top:408px;width:800.0px;font-size:12.66px;text-align:center;"><span style="display:inline-block;transform:scaleX(0.980);transform-origin:center center">20</span></div>
<div class="t" style="left:914.0px;top:408px;width:800.0px;font-size:12.66px;text-align:center;"><span style="display:inline-block;transform:scaleX(0.980);transform-origin:center center">3,3</span></div>
<div class="t" style="left:976.0px;top:408px;width:800.0px;font-size:12.66px;text-align:center;"><span style="display:inline-block;transform:scaleX(0.980);transform-origin:center center">185,0</span></div>
<div class="t" style="left:1396.5px;top:202px;width:800.0px;font-size:9.40px;text-align:center;"><span style="display:inline-block;transform:scaleX(1.060);transform-origin:center center">N2</span></div>
<div class="t" style="left:-390.0px;top:176px;width:800.0px;font-size:10.14px;text-align:center;"><span style="display:inline-block;transform:scaleX(1.060);transform-origin:center center">R</span></div>
<div class="t" style="left:-390.0px;top:228px;width:800.0px;font-size:10.14px;text-align:center;"><span style="display:inline-block;transform:scaleX(1.060);transform-origin:center center">R</span></div>
<div class="t" style="left:-205.0px;top:435px;width:800.0px;font-size:15.20px;text-align:center;"><span style="display:inline-block;transform:scaleX(0.869);transform-origin:center center">TOTALES</span></div>
<div class="t" style="left:-53.0px;top:435px;width:800.0px;font-size:16.00px;text-align:center;"><span style="display:inline-block;transform:scaleX(0.970);transform-origin:center center">2,7</span></div>
<div class="t" style="left:-15.0px;top:435px;width:800.0px;font-size:16.00px;text-align:center;"><span style="display:inline-block;transform:scaleX(0.970);transform-origin:center center">2,7</span></div>
<div class="t" style="left:22.5px;top:435px;width:800.0px;font-size:16.00px;text-align:center;"><span style="display:inline-block;transform:scaleX(0.970);transform-origin:center center">2,8</span></div>
<div class="t" style="left:101.5px;top:435px;width:800.0px;font-size:16.00px;text-align:center;"><span style="display:inline-block;transform:scaleX(0.970);transform-origin:center center">2,7</span></div>
<div class="t" style="left:162.0px;top:435px;width:800.0px;font-size:16.00px;text-align:center;"><span style="display:inline-block;transform:scaleX(0.970);transform-origin:center center">81,9</span></div>
<div class="t" style="left:214.0px;top:435px;width:800.0px;font-size:16.00px;text-align:center;"><span style="display:inline-block;transform:scaleX(0.970);transform-origin:center center">41</span></div>
<div class="t" style="left:250.5px;top:435px;width:800.0px;font-size:16.00px;text-align:center;"><span style="display:inline-block;transform:scaleX(0.970);transform-origin:center center">37</span></div>
<div class="t" style="left:286.0px;top:435px;width:800.0px;font-size:16.00px;text-align:center;"><span style="display:inline-block;transform:scaleX(0.970);transform-origin:center center">36</span></div>
<div class="t" style="left:330.0px;top:435px;width:800.0px;font-size:16.00px;text-align:center;"><span style="display:inline-block;transform:scaleX(0.970);transform-origin:center center">114</span></div>
<div class="t" style="left:380.0px;top:435px;width:800.0px;font-size:16.00px;text-align:center;"><span style="display:inline-block;transform:scaleX(0.970);transform-origin:center center">47,2</span></div>
<div class="t" style="left:432.5px;top:435px;width:800.0px;font-size:16.00px;text-align:center;"><span style="display:inline-block;transform:scaleX(0.970);transform-origin:center center">0,0</span></div>
<div class="t" style="left:717.0px;top:435px;width:800.0px;font-size:16.00px;text-align:center;"><span style="display:inline-block;transform:scaleX(0.970);transform-origin:center center">29</span></div>
<div class="t" style="left:776.5px;top:435px;width:800.0px;font-size:16.00px;text-align:center;"><span style="display:inline-block;transform:scaleX(0.970);transform-origin:center center">2,8</span></div>
<div class="t" style="left:845.5px;top:435px;width:800.0px;font-size:16.00px;text-align:center;"><span style="display:inline-block;transform:scaleX(0.970);transform-origin:center center">7,66667</span></div>
<div class="t" style="left:914.0px;top:435px;width:800.0px;font-size:16.00px;text-align:center;"><span style="display:inline-block;transform:scaleX(0.970);transform-origin:center center">1,9</span></div>
<div class="t" style="left:976.0px;top:435px;width:800.0px;font-size:16.00px;text-align:center;"><span style="display:inline-block;transform:scaleX(0.970);transform-origin:center center">136,8</span></div>
<div class="t" style="left:-206.0px;top:85px;width:800.0px;font-size:12.66px;text-align:center;"><span style="display:inline-block;transform:scaleX(0.954);transform-origin:center center">MADRID AGOSTO 2016</span></div>
<div class="t" style="left:-206.0px;top:113px;width:800.0px;font-size:12.66px;text-align:center;">Nombre</div>
<div class="t" style="left:349.2px;top:60px;width:250.8px;font-size:15.20px;font-weight:bold;text-align:left;"><span style="display:inline-block;transform:scaleX(0.945);transform-origin:left center">NIVEL 1  Visión Aural</span></div>
<div class="t" style="left:-54.0px;top:113px;width:800.0px;font-size:12.66px;text-align:center;"><span style="display:inline-block;transform:scaleX(0.980);transform-origin:center center">Ing.</span></div>
<div class="t" style="left:-16.0px;top:113px;width:800.0px;font-size:12.66px;text-align:center;"><span style="display:inline-block;transform:scaleX(1.006);transform-origin:center center">Med.</span></div>
<div class="t" style="left:21.5px;top:113px;width:800.0px;font-size:12.66px;text-align:center;"><span style="display:inline-block;transform:scaleX(0.959);transform-origin:center center">Via.</span></div>
<div class="t" style="left:57.0px;top:113px;width:800.0px;font-size:12.66px;text-align:center;"><span style="display:inline-block;transform:scaleX(1.031);transform-origin:center center">Otra.</span></div>
<div class="t" style="left:475px;top:114px;width:52px;font-size:9.90px;overflow:hidden;text-align:left;"><span style="display:inline-block;transform:scaleX(1.110);transform-origin:left center">Puntuación</span></div>
<div class="t" style="left:163.0px;top:114px;width:800.0px;font-size:9.90px;text-align:center;"><span style="display:inline-block;transform:scaleX(1.040);transform-origin:center center">Rendimiento</span></div>
<div class="t" style="left:627.2px;top:60px;width:272.79999999999995px;font-size:15.20px;font-weight:bold;text-align:left;"><span style="display:inline-block;transform:scaleX(0.947);transform-origin:left center">NIVEL 2  Visión  Criptestésica</span></div>
<div class="t" style="left:248.5px;top:85px;width:800.0px;font-size:12.66px;text-align:center;"><span style="display:inline-block;transform:scaleX(0.923);transform-origin:center center">PIRÁMIDES</span></div>
<div class="t" style="left:213.0px;top:113px;width:800.0px;font-size:12.66px;text-align:center;"><span style="display:inline-block;transform:scaleX(1.010);transform-origin:center center">1 <span class="o">ª<i></i></span></span></div>
<div class="t" style="left:249.5px;top:113px;width:800.0px;font-size:12.66px;text-align:center;">2<span class="o">ª<i></i></span></div>
<div class="t" style="left:285.0px;top:113px;width:800.0px;font-size:12.66px;text-align:center;"><span style="display:inline-block;transform:scaleX(0.914);transform-origin:center center">&gt; 3</span></div>
<div class="t" style="left:329.0px;top:94px;width:800.0px;font-size:9.90px;text-align:center;"><span style="display:inline-block;transform:scaleX(1.068);transform-origin:center center">máximos</span></div>
<div class="t" style="left:329.0px;top:108px;width:800.0px;font-size:9.90px;text-align:center;"><span style="display:inline-block;transform:scaleX(1.133);transform-origin:center center">Intentos</span></div>
<div class="t" style="left:379.0px;top:107px;width:800.0px;font-size:9.90px;text-align:center;"><span style="display:inline-block;transform:scaleX(1.024);transform-origin:center center">Rendimi</span></div>
<div class="t" style="left:379.0px;top:121px;width:800.0px;font-size:9.90px;text-align:center;"><span style="display:inline-block;transform:scaleX(1.105);transform-origin:center center">ento</span></div>
<div class="t" style="left:432.5px;top:86px;width:800.0px;font-size:9.90px;text-align:center;"><span style="display:inline-block;transform:scaleX(1.092);transform-origin:center center">Puntuacion</span></div>
<div class="t" style="left:431.5px;top:113px;width:800.0px;font-size:11.40px;text-align:center;"><span style="display:inline-block;transform:scaleX(0.868);transform-origin:center center">en base a 5</span></div>
<div class="t" style="left:905.4px;top:60px;width:294.6px;font-size:15.20px;font-weight:bold;text-align:left;"><span style="display:inline-block;transform:scaleX(0.943);transform-origin:left center">NIVEL 3  Visión  Extrasensorial</span></div>
<div class="t" style="left:566.5px;top:85px;width:800.0px;font-size:12.66px;text-align:center;"><span style="display:inline-block;transform:scaleX(0.899);transform-origin:center center">INTENTOS REALIZADOS</span></div>
<div class="t" style="left:473.0px;top:113px;width:800.0px;font-size:12.66px;text-align:center;"><span style="display:inline-block;transform:scaleX(1.060);transform-origin:center center">1<span class="o">º<i></i></span></span></div>
<div class="t" style="left:497.5px;top:113px;width:800.0px;font-size:12.66px;text-align:center;"><span style="display:inline-block;transform:scaleX(1.060);transform-origin:center center">2<span class="o">º<i></i></span></span></div>
<div class="t" style="left:522.0px;top:113px;width:800.0px;font-size:12.66px;text-align:center;"><span style="display:inline-block;transform:scaleX(1.060);transform-origin:center center">3<span class="o">º<i></i></span></span></div>
<div class="t" style="left:544.5px;top:113px;width:800.0px;font-size:12.66px;text-align:center;"><span style="display:inline-block;transform:scaleX(1.060);transform-origin:center center">4<span class="o">º<i></i></span></span></div>
<div class="t" style="left:566.5px;top:113px;width:800.0px;font-size:12.66px;text-align:center;"><span style="display:inline-block;transform:scaleX(1.060);transform-origin:center center">5<span class="o">º<i></i></span></span></div>
<div class="t" style="left:589.0px;top:113px;width:800.0px;font-size:12.66px;text-align:center;"><span style="display:inline-block;transform:scaleX(1.060);transform-origin:center center">6<span class="o">º<i></i></span></span></div>
<div class="t" style="left:611.0px;top:113px;width:800.0px;font-size:12.66px;text-align:center;"><span style="display:inline-block;transform:scaleX(1.060);transform-origin:center center">7<span class="o">º<i></i></span></span></div>
<div class="t" style="left:633.5px;top:113px;width:800.0px;font-size:12.66px;text-align:center;"><span style="display:inline-block;transform:scaleX(0.804);transform-origin:center center">FB</span></div>
<div class="t" style="left:655.0px;top:113px;width:800.0px;font-size:12.66px;text-align:center;"><span style="display:inline-block;transform:scaleX(0.804);transform-origin:center center">FB</span></div>
<div class="t" style="left:676.0px;top:113px;width:800.0px;font-size:12.66px;text-align:center;"><span style="display:inline-block;transform:scaleX(0.804);transform-origin:center center">FB</span></div>
<div class="t" style="left:716.0px;top:86px;width:800.0px;font-size:9.90px;text-align:center;"><span style="display:inline-block;transform:scaleX(1.136);transform-origin:center center">Intentos</span></div>
<div class="t" style="left:716.0px;top:113px;width:800.0px;font-size:11.40px;text-align:center;"><span style="display:inline-block;transform:scaleX(0.950);transform-origin:center center">aceptables</span></div>
<div class="t" style="left:775.5px;top:86px;width:800.0px;font-size:9.90px;text-align:center;"><span style="display:inline-block;transform:scaleX(1.092);transform-origin:center center">Puntuación</span></div>
<div class="t" style="left:775.5px;top:113px;width:800.0px;font-size:11.40px;text-align:center;"><span style="display:inline-block;transform:scaleX(0.868);transform-origin:center center">en base a 5</span></div>
<div class="t" style="left:844.5px;top:86px;width:800.0px;font-size:9.90px;text-align:center;"><span style="display:inline-block;transform:scaleX(1.045);transform-origin:center center">Rendimiento</span></div>
<div class="t" style="left:1407.4px;top:60px;width:192.5999999999999px;font-size:15.20px;font-weight:bold;text-align:left;"><span style="display:inline-block;transform:scaleX(0.901);transform-origin:left center">RESULTADOS</span></div>
<div class="t" style="left:912.5px;top:86px;width:800.0px;font-size:9.90px;text-align:center;"><span style="display:inline-block;transform:scaleX(1.082);transform-origin:center center">Puntuación</span></div>
<div class="t" style="left:913.0px;top:113px;width:800.0px;font-size:12.90px;text-align:center;"><span style="display:inline-block;transform:scaleX(0.916);transform-origin:center center">TOTAL</span></div>
<div class="t" style="left:975.0px;top:101px;width:800.0px;font-size:9.90px;text-align:center;"><span style="display:inline-block;transform:scaleX(1.040);transform-origin:center center">Rendimiento</span></div>
<div class="t" style="left:1052.5px;top:88px;width:800.0px;font-size:12.90px;text-align:center;"><span style="display:inline-block;transform:scaleX(0.908);transform-origin:center center">FORMACIÓN</span></div>
<div class="t" style="left:1052.5px;top:107px;width:800.0px;font-size:12.90px;text-align:center;"><span style="display:inline-block;transform:scaleX(0.851);transform-origin:center center">PROFESIONAL</span></div>
<div class="t" style="left:1231.5px;top:113px;width:800.0px;font-size:12.90px;text-align:center;"><span style="display:inline-block;transform:scaleX(0.862);transform-origin:center center">OBSERVACIONES</span></div>
<div class="t" style="left:1396.5px;top:85px;width:800.0px;font-size:12.90px;text-align:center;"><span style="display:inline-block;transform:scaleX(0.953);transform-origin:center center">Debe</span></div>
<div class="t" style="left:1396.5px;top:113px;width:800.0px;font-size:12.90px;text-align:center;">Repetir</div>
<div class="r" style="left:22px;top:49px;width:1808px;height:2px;background:#000000"></div>
<div class="r" style="left:593px;top:77px;width:1237px;height:2px;background:#000000"></div>
<div class="r" style="left:325px;top:101px;width:270px;height:2px;background:#000000"></div>
<div class="r" style="left:593px;top:102px;width:110px;height:1px;background:#000000"></div>
<div class="r" style="left:860px;top:102px;width:227px;height:1px;background:#000000"></div>
<div class="r" style="left:22px;top:133px;width:1808px;height:2px;background:#000000"></div>
<div class="r" style="left:22px;top:429px;width:1808px;height:2px;background:#000000"></div>
<div class="r" style="left:22px;top:452px;width:1743px;height:2px;background:#000000"></div>
<div class="r" style="left:61px;top:166px;width:1767px;height:1px;background:#000000"></div>
<div class="r dot" style="left:24px;top:166px;width:35px;height:1px"></div>
<div class="r" style="left:61px;top:192px;width:1767px;height:1px;background:#000000"></div>
<div class="r dot" style="left:24px;top:192px;width:35px;height:1px"></div>
<div class="r" style="left:61px;top:218px;width:1767px;height:1px;background:#000000"></div>
<div class="r dot" style="left:24px;top:218px;width:35px;height:1px"></div>
<div class="r" style="left:61px;top:244px;width:1767px;height:1px;background:#000000"></div>
<div class="r dot" style="left:24px;top:244px;width:35px;height:1px"></div>
<div class="r" style="left:61px;top:270px;width:1767px;height:1px;background:#000000"></div>
<div class="r dot" style="left:24px;top:270px;width:35px;height:1px"></div>
<div class="r" style="left:61px;top:296px;width:1767px;height:1px;background:#000000"></div>
<div class="r dot" style="left:24px;top:296px;width:35px;height:1px"></div>
<div class="r" style="left:61px;top:322px;width:1767px;height:1px;background:#000000"></div>
<div class="r dot" style="left:24px;top:322px;width:35px;height:1px"></div>
<div class="r" style="left:61px;top:348px;width:1767px;height:1px;background:#000000"></div>
<div class="r dot" style="left:24px;top:348px;width:35px;height:1px"></div>
<div class="r" style="left:61px;top:374px;width:1767px;height:1px;background:#000000"></div>
<div class="r dot" style="left:24px;top:374px;width:35px;height:1px"></div>
<div class="r" style="left:61px;top:400px;width:1767px;height:1px;background:#000000"></div>
<div class="r dot" style="left:24px;top:400px;width:35px;height:1px"></div>
<div class="r" style="left:22px;top:49px;width:2px;height:405px;background:#000000"></div>
<div class="r" style="left:59px;top:133px;width:2px;height:296px;background:#000000"></div>
<div class="r" style="left:325px;top:49px;width:2px;height:405px;background:#000000"></div>
<div class="r" style="left:365px;top:101px;width:1px;height:351px;background:#000000"></div>
<div class="r" style="left:402px;top:101px;width:1px;height:351px;background:#000000"></div>
<div class="r" style="left:440px;top:101px;width:1px;height:351px;background:#000000"></div>
<div class="r" style="left:473px;top:101px;width:1px;height:351px;background:#000000"></div>
<div class="r" style="left:527px;top:101px;width:2px;height:351px;background:#000000"></div>
<div class="r" style="left:593px;top:49px;width:2px;height:405px;background:#000000"></div>
<div class="r" style="left:631px;top:102px;width:1px;height:350px;background:#000000"></div>
<div class="r" style="left:667px;top:102px;width:1px;height:350px;background:#000000"></div>
<div class="r" style="left:702px;top:77px;width:1px;height:375px;background:#000000"></div>
<div class="r" style="left:755px;top:77px;width:1px;height:375px;background:#000000"></div>
<div class="r" style="left:802px;top:77px;width:1px;height:375px;background:#000000"></div>
<div class="r" style="left:860px;top:49px;width:2px;height:405px;background:#000000"></div>
<div class="r" style="left:884px;top:102px;width:1px;height:350px;background:#000000"></div>
<div class="r" style="left:910px;top:102px;width:1px;height:350px;background:#000000"></div>
<div class="r" style="left:933px;top:102px;width:1px;height:350px;background:#000000"></div>
<div class="r" style="left:955px;top:102px;width:1px;height:350px;background:#000000"></div>
<div class="r" style="left:977px;top:102px;width:1px;height:350px;background:#000000"></div>
<div class="r" style="left:1000px;top:102px;width:1px;height:350px;background:#000000"></div>
<div class="r" style="left:1021px;top:102px;width:1px;height:350px;background:#000000"></div>
<div class="r" style="left:1044px;top:102px;width:1px;height:350px;background:#000000"></div>
<div class="r" style="left:1064px;top:102px;width:1px;height:350px;background:#000000"></div>
<div class="r" style="left:1086px;top:77px;width:2px;height:375px;background:#000000"></div>
<div class="r" style="left:1144px;top:77px;width:2px;height:375px;background:#000000"></div>
<div class="r" style="left:1205px;top:77px;width:2px;height:375px;background:#000000"></div>
<div class="r" style="left:1282px;top:49px;width:2px;height:405px;background:#000000"></div>
<div class="r" style="left:1342px;top:77px;width:2px;height:375px;background:#000000"></div>
<div class="r" style="left:1406px;top:77px;width:2px;height:375px;background:#000000"></div>
<div class="r" style="left:1497px;top:77px;width:2px;height:375px;background:#000000"></div>
<div class="r" style="left:1763px;top:77px;width:2px;height:375px;background:#000000"></div>
<div class="r" style="left:1828px;top:49px;width:2px;height:494px;background:#000000"></div>
<div class="r" style="left:44px;top:119px;width:17px;height:16px;background:#E4E4E4;border:1px solid #CFCFCF;box-sizing:border-box"></div>
<svg class="r" style="left:48px;top:125px" width="9" height="5" viewBox="0 0 9 5"><path d="M0.5 0H8.5L4.5 4.5Z" fill="#000"/></svg>
<div class="r" style="left:310px;top:119px;width:17px;height:16px;background:#E4E4E4;border:1px solid #CFCFCF;box-sizing:border-box"></div>
<svg class="r" style="left:314px;top:125px" width="9" height="5" viewBox="0 0 9 5"><path d="M0.5 0H8.5L4.5 4.5Z" fill="#000"/></svg>
<div class="r" style="left:61px;top:459px;width:264px;height:82px;background:#FF99CC"></div>
<div class="r" style="left:327px;top:459px;width:266px;height:82px;background:#CCFFCC"></div>
<div class="r" style="left:595px;top:459px;width:265px;height:82px;background:#CCFFFF"></div>
<div class="r" style="left:862px;top:459px;width:420px;height:82px;background:#FFCC99"></div>
<div class="r" style="left:1284px;top:459px;width:58px;height:54px;background:#FFFF99"></div>
<div class="r" style="left:1344px;top:459px;width:62px;height:54px;background:#C0C0C0"></div>
<div class="r" style="left:1408px;top:459px;width:89px;height:54px;background:#00FF00"></div>
<div class="r" style="left:1499px;top:459px;width:264px;height:54px;background:#CCFFFF"></div>
<div class="r" style="left:1765px;top:458px;width:63px;height:55px;background:#FFFF99"></div>
<div class="r" style="left:1284px;top:515px;width:544px;height:26px;background:#CC99FF"></div>
<div class="t" style="left:-207.0px;top:469px;width:800.0px;font-size:12.66px;text-align:center;">Nombre</div>
<div class="t" style="left:-207.0px;top:497px;width:800.0px;font-size:12.66px;text-align:center;"><span style="display:inline-block;transform:scaleX(0.983);transform-origin:center center">MADRID Agosto 2015</span></div>
<div class="t" style="left:350.4px;top:523px;width:249.60000000000002px;font-size:15.20px;font-weight:bold;text-align:left;"><span style="display:inline-block;transform:scaleX(0.948);transform-origin:left center">NIVEL 1  Visión Aura</span></div>
<div class="t" style="left:-54.0px;top:469px;width:800.0px;font-size:12.66px;text-align:center;"><span style="display:inline-block;transform:scaleX(0.980);transform-origin:center center">Ing.</span></div>
<div class="t" style="left:-16.0px;top:469px;width:800.0px;font-size:12.66px;text-align:center;"><span style="display:inline-block;transform:scaleX(1.006);transform-origin:center center">Med.</span></div>
<div class="t" style="left:21.5px;top:469px;width:800.0px;font-size:12.66px;text-align:center;"><span style="display:inline-block;transform:scaleX(0.959);transform-origin:center center">Via.</span></div>
<div class="t" style="left:57.0px;top:469px;width:800.0px;font-size:12.66px;text-align:center;"><span style="display:inline-block;transform:scaleX(1.031);transform-origin:center center">Otra.</span></div>
<div class="t" style="left:100.5px;top:470px;width:800.0px;font-size:9.40px;text-align:center;"><span style="display:inline-block;transform:scaleX(1.121);transform-origin:center center">SubTotal</span></div>
<div class="t" style="left:163.0px;top:470px;width:800.0px;font-size:9.90px;text-align:center;"><span style="display:inline-block;transform:scaleX(1.040);transform-origin:center center">Rendimiento</span></div>
<div class="t" style="left:213.0px;top:469px;width:800.0px;font-size:12.66px;text-align:center;"><span style="display:inline-block;transform:scaleX(1.010);transform-origin:center center">1 <span class="o">ª<i></i></span></span></div>
<div class="t" style="left:249.5px;top:469px;width:800.0px;font-size:12.66px;text-align:center;">2<span class="o">ª<i></i></span></div>
<div class="t" style="left:285.0px;top:469px;width:800.0px;font-size:12.66px;text-align:center;"><span style="display:inline-block;transform:scaleX(0.914);transform-origin:center center">&gt; 3</span></div>
<div class="t" style="left:329.0px;top:470px;width:800.0px;font-size:9.90px;text-align:center;"><span style="display:inline-block;transform:scaleX(1.133);transform-origin:center center">Intentos</span></div>
<div class="t" style="left:379.0px;top:463px;width:800.0px;font-size:9.90px;text-align:center;"><span style="display:inline-block;transform:scaleX(1.024);transform-origin:center center">Rendimi</span></div>
<div class="t" style="left:379.0px;top:477px;width:800.0px;font-size:9.90px;text-align:center;"><span style="display:inline-block;transform:scaleX(1.105);transform-origin:center center">ento</span></div>
<div class="t" style="left:432.5px;top:470px;width:800.0px;font-size:9.90px;text-align:center;"><span style="display:inline-block;transform:scaleX(1.092);transform-origin:center center">Puntuación</span></div>
<div class="t" style="left:248.5px;top:497px;width:800.0px;font-size:12.66px;text-align:center;"><span style="display:inline-block;transform:scaleX(0.923);transform-origin:center center">PIRÁMIDES</span></div>
<div class="t" style="left:627.2px;top:523px;width:272.79999999999995px;font-size:15.20px;font-weight:bold;text-align:left;"><span style="display:inline-block;transform:scaleX(0.947);transform-origin:left center">NIVEL 2  Visión  Criptestésica</span></div>
<div class="t" style="left:473.0px;top:469px;width:800.0px;font-size:12.66px;text-align:center;"><span style="display:inline-block;transform:scaleX(1.060);transform-origin:center center">1<span class="o">º<i></i></span></span></div>
<div class="t" style="left:497.5px;top:469px;width:800.0px;font-size:12.66px;text-align:center;"><span style="display:inline-block;transform:scaleX(1.060);transform-origin:center center">2<span class="o">º<i></i></span></span></div>
<div class="t" style="left:522.0px;top:469px;width:800.0px;font-size:12.66px;text-align:center;"><span style="display:inline-block;transform:scaleX(1.060);transform-origin:center center">3<span class="o">º<i></i></span></span></div>
<div class="t" style="left:544.5px;top:469px;width:800.0px;font-size:12.66px;text-align:center;"><span style="display:inline-block;transform:scaleX(1.060);transform-origin:center center">4<span class="o">º<i></i></span></span></div>
<div class="t" style="left:566.5px;top:469px;width:800.0px;font-size:12.66px;text-align:center;"><span style="display:inline-block;transform:scaleX(1.060);transform-origin:center center">5<span class="o">º<i></i></span></span></div>
<div class="t" style="left:589.0px;top:469px;width:800.0px;font-size:12.66px;text-align:center;"><span style="display:inline-block;transform:scaleX(1.060);transform-origin:center center">6<span class="o">º<i></i></span></span></div>
<div class="t" style="left:611.0px;top:469px;width:800.0px;font-size:12.66px;text-align:center;"><span style="display:inline-block;transform:scaleX(1.060);transform-origin:center center">7<span class="o">º<i></i></span></span></div>
<div class="t" style="left:633.0px;top:469px;width:800.0px;font-size:12.66px;text-align:center;"><span style="display:inline-block;transform:scaleX(1.060);transform-origin:center center">8<span class="o">º<i></i></span></span></div>
<div class="t" style="left:654.5px;top:469px;width:800.0px;font-size:12.66px;text-align:center;"><span style="display:inline-block;transform:scaleX(1.060);transform-origin:center center">9<span class="o">º<i></i></span></span></div>
<div class="t" style="left:675.5px;top:469px;width:800.0px;font-size:12.66px;text-align:center;"><span style="display:inline-block;transform:scaleX(0.980);transform-origin:center center">10<span class="o">º<i></i></span></span></div>
<div class="t" style="left:566.5px;top:497px;width:800.0px;font-size:12.66px;text-align:center;"><span style="display:inline-block;transform:scaleX(0.899);transform-origin:center center">INTENTOS REALIZADOS</span></div>
<div class="t" style="left:905.4px;top:523px;width:294.6px;font-size:15.20px;font-weight:bold;text-align:left;"><span style="display:inline-block;transform:scaleX(0.943);transform-origin:left center">NIVEL 3  Visión  Extrasensorial</span></div>
<div class="t" style="left:716.0px;top:469px;width:800.0px;font-size:10.90px;text-align:center;"><span style="display:inline-block;transform:scaleX(1.160);transform-origin:center center">Intentos</span></div>
<div class="t" style="left:716.0px;top:497px;width:800.0px;font-size:10.74px;text-align:center;"><span style="display:inline-block;transform:scaleX(0.986);transform-origin:center center">Aceptables</span></div>
<div class="t" style="left:775.5px;top:469px;width:800.0px;font-size:10.60px;text-align:center;"><span style="display:inline-block;transform:scaleX(1.154);transform-origin:center center">SubTotal</span></div>
<div class="t" style="left:844.5px;top:470px;width:800.0px;font-size:9.90px;text-align:center;"><span style="display:inline-block;transform:scaleX(1.045);transform-origin:center center">Rendimiento</span></div>
<div class="t" style="left:913.0px;top:469px;width:800.0px;font-size:12.90px;text-align:center;"><span style="display:inline-block;transform:scaleX(0.916);transform-origin:center center">TOTAL</span></div>
<div class="t" style="left:975.0px;top:461px;width:800.0px;font-size:9.90px;text-align:center;"><span style="display:inline-block;transform:scaleX(1.040);transform-origin:center center">Rendimiento</span></div>
<div class="t" style="left:1052.5px;top:476px;width:800.0px;font-size:12.90px;text-align:center;"><span style="display:inline-block;transform:scaleX(0.908);transform-origin:center center">FORMACIÓN</span></div>
<div class="t" style="left:1052.5px;top:495px;width:800.0px;font-size:12.90px;text-align:center;"><span style="display:inline-block;transform:scaleX(0.851);transform-origin:center center">PROFESIONAL</span></div>
<div class="t" style="left:1233.0px;top:469px;width:800.0px;font-size:12.90px;text-align:center;"><span style="display:inline-block;transform:scaleX(0.862);transform-origin:center center">OBSERVACIONES</span></div>
<div class="t" style="left:1396.5px;top:469px;width:800.0px;font-size:12.90px;text-align:center;"><span style="display:inline-block;transform:scaleX(0.953);transform-origin:center center">Debe</span></div>
<div class="t" style="left:1396.5px;top:497px;width:800.0px;font-size:12.90px;text-align:center;">Repetir</div>
<div class="t" style="left:1407.4px;top:523px;width:192.5999999999999px;font-size:15.20px;font-weight:bold;text-align:left;"><span style="display:inline-block;transform:scaleX(0.901);transform-origin:left center">RESULTADOS</span></div>
<div class="r" style="left:59px;top:457px;width:268px;height:2px;background:#000000"></div>
<div class="r" style="left:593px;top:457px;width:691px;height:2px;background:#000000"></div>
<div class="r" style="left:1342px;top:457px;width:423px;height:2px;background:#000000"></div>
<div class="r" style="left:325px;top:458px;width:270px;height:1px;background:#000000"></div>
<div class="r" style="left:1282px;top:458px;width:62px;height:1px;background:#000000"></div>
<div class="r" style="left:59px;top:489px;width:536px;height:2px;background:#000000"></div>
<div class="r" style="left:593px;top:490px;width:110px;height:1px;background:#000000"></div>
<div class="r" style="left:860px;top:490px;width:227px;height:1px;background:#000000"></div>
<div class="r" style="left:593px;top:514px;width:691px;height:1px;background:#000000"></div>
<div class="r" style="left:1282px;top:513px;width:548px;height:2px;background:#000000"></div>
<div class="r" style="left:59px;top:541px;width:1771px;height:2px;background:#000000"></div>
<div class="r" style="left:59px;top:457px;width:2px;height:86px;background:#000000"></div>
<div class="r" style="left:325px;top:457px;width:2px;height:86px;background:#000000"></div>
<div class="r" style="left:365px;top:458px;width:1px;height:31px;background:#000000"></div>
<div class="r" style="left:402px;top:458px;width:1px;height:31px;background:#000000"></div>
<div class="r" style="left:440px;top:458px;width:1px;height:31px;background:#000000"></div>
<div class="r" style="left:473px;top:458px;width:1px;height:31px;background:#000000"></div>
<div class="r" style="left:527px;top:458px;width:2px;height:31px;background:#000000"></div>
<div class="r" style="left:593px;top:457px;width:2px;height:86px;background:#000000"></div>
<div class="r" style="left:631px;top:457px;width:1px;height:34px;background:#000000"></div>
<div class="r" style="left:667px;top:457px;width:1px;height:34px;background:#000000"></div>
<div class="r" style="left:702px;top:457px;width:1px;height:58px;background:#000000"></div>
<div class="r" style="left:755px;top:457px;width:1px;height:58px;background:#000000"></div>
<div class="r" style="left:802px;top:457px;width:1px;height:58px;background:#000000"></div>
<div class="r" style="left:860px;top:457px;width:2px;height:86px;background:#000000"></div>
<div class="r" style="left:884px;top:457px;width:1px;height:34px;background:#000000"></div>
<div class="r" style="left:910px;top:457px;width:1px;height:34px;background:#000000"></div>
<div class="r" style="left:933px;top:457px;width:1px;height:34px;background:#000000"></div>
<div class="r" style="left:955px;top:457px;width:1px;height:34px;background:#000000"></div>
<div class="r" style="left:977px;top:457px;width:1px;height:34px;background:#000000"></div>
<div class="r" style="left:1000px;top:457px;width:1px;height:34px;background:#000000"></div>
<div class="r" style="left:1021px;top:457px;width:1px;height:34px;background:#000000"></div>
<div class="r" style="left:1044px;top:457px;width:1px;height:34px;background:#000000"></div>
<div class="r" style="left:1064px;top:457px;width:1px;height:34px;background:#000000"></div>
<div class="r" style="left:1087px;top:457px;width:1px;height:58px;background:#000000"></div>
<div class="r" style="left:1145px;top:457px;width:1px;height:58px;background:#000000"></div>
<div class="r" style="left:1206px;top:457px;width:1px;height:58px;background:#000000"></div>
<div class="r" style="left:1282px;top:457px;width:2px;height:86px;background:#000000"></div>
<div class="r" style="left:1342px;top:457px;width:2px;height:56px;background:#000000"></div>
<div class="r" style="left:1406px;top:457px;width:2px;height:56px;background:#000000"></div>
<div class="r" style="left:1497px;top:457px;width:2px;height:56px;background:#000000"></div>
<div class="r" style="left:1763px;top:457px;width:2px;height:56px;background:#000000"></div>
</div>
</body></html>
